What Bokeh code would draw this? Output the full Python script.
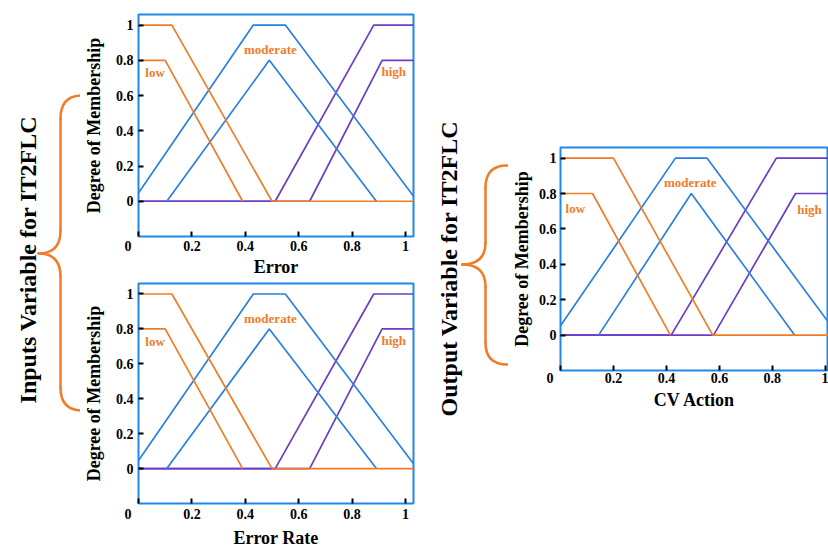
import math
from bokeh.plotting import figure
from bokeh.models import Range1d, FixedTicker
from bokeh.layouts import row, column
from bokeh.core.properties import value
from bokeh.embed import file_html
from bokeh.resources import INLINE

# ---------------- data ----------------
x_ticks = [0.0, 0.2, 0.4, 0.6, 0.8, 1.0]
x_tick_labels = ["0", "0.2", "0.4", "0.6", "0.8", "1"]
y_ticks = [0.0, 0.2, 0.4, 0.6, 0.8, 1.0]
y_tick_labels = ["0", "0.2", "0.4", "0.6", "0.8", "1"]

set_names = ["low", "moderate", "high"]

# Error (input 1)
err_low_upper_x = [0.0, 0.125, 0.50, 1.03]
err_low_upper_y = [1.0, 1.0, 0.0, 0.0]
err_low_lower_x = [0.0, 0.10, 0.39]
err_low_lower_y = [0.8, 0.8, 0.0]
err_mod_upper_x = [-0.021, 0.43, 0.55, 1.044]
err_mod_upper_y = [0.0, 1.0, 1.0, 0.0]
err_mod_lower_x = [0.106, 0.49, 0.891]
err_mod_lower_y = [0.0, 0.8, 0.0]
err_high_upper_x = [0.0, 0.512, 0.881, 1.03]
err_high_upper_y = [0.0, 0.0, 1.0, 1.0]
err_high_lower_x = [0.0, 0.641, 0.9125, 1.03]
err_high_lower_y = [0.0, 0.0, 0.8, 0.8]
err_label_x = [0.062, 0.494, 0.956]
err_label_y = [0.73, 0.862, 0.736]

# Error Rate (input 2)
rate_low_upper_x = [0.0, 0.125, 0.50, 1.03]
rate_low_upper_y = [1.0, 1.0, 0.0, 0.0]
rate_low_lower_x = [0.0, 0.10, 0.39]
rate_low_lower_y = [0.8, 0.8, 0.0]
rate_mod_upper_x = [-0.021, 0.43, 0.55, 1.044]
rate_mod_upper_y = [0.0, 1.0, 1.0, 0.0]
rate_mod_lower_x = [0.106, 0.49, 0.891]
rate_mod_lower_y = [0.0, 0.8, 0.0]
rate_high_upper_x = [0.0, 0.512, 0.881, 1.03]
rate_high_upper_y = [0.0, 0.0, 1.0, 1.0]
rate_high_lower_x = [0.0, 0.641, 0.9125, 1.03]
rate_high_lower_y = [0.0, 0.0, 0.8, 0.8]
rate_label_x = [0.062, 0.494, 0.956]
rate_label_y = [0.73, 0.862, 0.736]

# CV Action (output)
cv_low_upper_x = [0.0, 0.20, 0.575, 1.02]
cv_low_upper_y = [1.0, 1.0, 0.0, 0.0]
cv_low_lower_x = [0.0, 0.121, 0.415]
cv_low_lower_y = [0.8, 0.8, 0.0]
cv_mod_upper_x = [-0.024, 0.434, 0.553, 1.048]
cv_mod_upper_y = [0.0, 1.0, 1.0, 0.0]
cv_mod_lower_x = [0.144, 0.494, 0.884]
cv_mod_lower_y = [0.0, 0.8, 0.0]
cv_high_upper_x = [0.0, 0.418, 0.815, 1.02]
cv_high_upper_y = [0.0, 0.0, 1.0, 1.0]
cv_high_lower_x = [0.0, 0.578, 0.8875, 1.02]
cv_high_lower_y = [0.0, 0.0, 0.8, 0.8]
cv_label_x = [0.056, 0.49, 0.94]
cv_label_y = [0.716, 0.864, 0.712]

# ---------------- style ----------------
ORANGE = "#F07C28"
BLUE = "#2A7FE2"
PURPLE = "#6A3EC6"
FRAME = "#2088EA"
SERIF = "Liberation Serif"
PAD = "\u2007\u2007\u2007"   # figure spaces: nudges the corner "0" to the left


def membership_plot(width, height, x_end, borders, series, lab_x, lab_y, xlabel,
                    tick_standoff, label_standoff):
    top, right, bottom, left = borders
    p = figure(width=width, height=height, output_backend="svg", toolbar_location=None,
               x_range=Range1d(0.0, x_end), y_range=Range1d(-0.2, 1.06),
               min_border_top=top, min_border_right=right,
               min_border_bottom=bottom, min_border_left=left)
    p.grid.visible = False
    p.outline_line_color = FRAME
    p.outline_line_width = 2
    p.background_fill_color = "white"
    p.border_fill_color = "white"

    order = [("high", PURPLE), ("moderate", BLUE), ("low", ORANGE)]
    for name, color in order:
        for xs, ys in series[name]:
            p.line(xs, ys, line_color=color, line_width=1.7)

    p.text(x=lab_x, y=lab_y, text=set_names, text_color=ORANGE,
           text_font=value(SERIF), text_font_style="bold", text_font_size="13px",
           text_align="center", text_baseline="middle")

    xlabels = dict(zip(x_ticks, x_tick_labels))
    xlabels[0.0] = xlabels[0.0] + PAD
    p.xaxis.ticker = FixedTicker(ticks=x_ticks)
    p.xaxis.major_label_overrides = xlabels
    p.yaxis.ticker = FixedTicker(ticks=y_ticks)
    p.yaxis.major_label_overrides = dict(zip(y_ticks, y_tick_labels))
    for ax in (p.xaxis, p.yaxis):
        ax.axis_line_color = None
        ax.major_tick_in = 5
        ax.major_tick_out = 0
        ax.major_tick_line_color = "black"
        ax.major_tick_line_width = 2
        ax.minor_tick_line_color = None
        ax.major_label_text_font = SERIF
        ax.major_label_text_font_style = "bold"
        ax.major_label_text_font_size = "14px"
        ax.major_label_text_color = "black"
        ax.axis_label_text_font = SERIF
        ax.axis_label_text_font_style = "bold"
        ax.axis_label_text_font_size = "18px"
        ax.axis_label_text_color = "black"
    p.xaxis.major_label_standoff = tick_standoff[0]
    p.yaxis.major_label_standoff = tick_standoff[1]
    p.xaxis.axis_label_standoff = label_standoff[0]
    p.yaxis.axis_label_standoff = label_standoff[1]
    p.xaxis.axis_label = xlabel
    p.yaxis.axis_label = "Degree of Membership"
    return p


err_series = {
    "low": [(err_low_upper_x, err_low_upper_y), (err_low_lower_x, err_low_lower_y)],
    "moderate": [(err_mod_upper_x, err_mod_upper_y), (err_mod_lower_x, err_mod_lower_y)],
    "high": [(err_high_upper_x, err_high_upper_y), (err_high_lower_x, err_high_lower_y)],
}
rate_series = {
    "low": [(rate_low_upper_x, rate_low_upper_y), (rate_low_lower_x, rate_low_lower_y)],
    "moderate": [(rate_mod_upper_x, rate_mod_upper_y), (rate_mod_lower_x, rate_mod_lower_y)],
    "high": [(rate_high_upper_x, rate_high_upper_y), (rate_high_lower_x, rate_high_lower_y)],
}
cv_series = {
    "low": [(cv_low_upper_x, cv_low_upper_y), (cv_low_lower_x, cv_low_lower_y)],
    "moderate": [(cv_mod_upper_x, cv_mod_upper_y), (cv_mod_lower_x, cv_mod_lower_y)],
    "high": [(cv_high_upper_x, cv_high_upper_y), (cv_high_lower_x, cv_high_lower_y)],
}

p_err = membership_plot(350, 279, 1.03, (14, 17, 40, 58), err_series,
                        err_label_x, err_label_y, "Error", (2, 5), (0, 9))
p_rate = membership_plot(350, 271, 1.03, (4, 17, 44, 58), rate_series,
                         rate_label_x, rate_label_y, "Error Rate", (3, 5), (3, 9))
p_cv = membership_plot(320, 412, 1.012, (147, 0, 38, 50), cv_series,
                       cv_label_x, cv_label_y, "CV Action", (0, 4), (1, 4))


# ---------------- side captions with braces ----------------
def caption_panel(width, text, text_x, text_y, brace):
    H = 550
    p = figure(width=width, height=H, output_backend="svg", toolbar_location=None,
               x_range=Range1d(0, width), y_range=Range1d(0, H),
               min_border=0)
    p.axis.visible = False
    p.grid.visible = False
    p.outline_line_color = None
    p.text(x=[text_x], y=[H - text_y], text=[text], angle=math.pi / 2,
           text_font=value(SERIF), text_font_style="bold", text_font_size="24px",
           text_color="black", text_align="center", text_baseline="middle")
    xe, xv, xt, yt, ytip, yb, r = brace
    Y = lambda v: H - v
    kw = dict(line_color=ORANGE, line_width=2.5, line_cap="round")
    p.quadratic(x0=[xe, xv, xt, xv], y0=[Y(yt), Y(ytip - r), Y(ytip), Y(yb - r)],
                x1=[xv, xt, xv, xe], y1=[Y(yt + r), Y(ytip), Y(ytip + r), Y(yb)],
                cx=[xv, xv, xv, xv], cy=[Y(yt), Y(ytip), Y(ytip), Y(yb)], **kw)
    p.segment(x0=[xv, xv], y0=[Y(yt + r), Y(ytip + r)],
              x1=[xv, xv], y1=[Y(ytip - r), Y(yb - r)], **kw)
    return p


left_caption = caption_panel(80, "Inputs Variable for IT2FLC", 27.5, 259,
                             (82, 60, 38, 95, 253, 410, 23))
right_caption = caption_panel(78, "Output Variable for IT2FLC", 18, 268,
                              (76.7, 55, 31.7, 165, 264, 364, 22))

layout = row(column(left_caption), column(p_err, p_rate),
             column(right_caption), column(p_cv))

open("out.html", "w").write(file_html(layout, INLINE))
